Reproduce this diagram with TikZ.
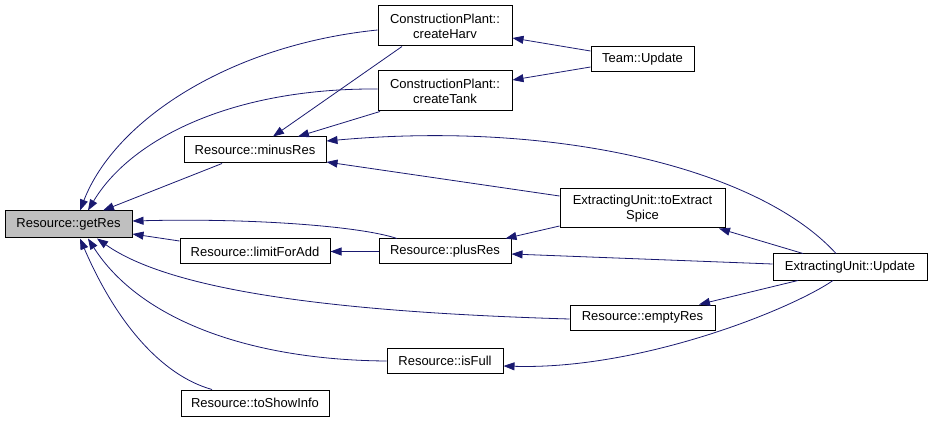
\documentclass[tikz,border=0pt]{standalone}
\usepackage{fontspec}
\setmainfont{Liberation Sans}
\usetikzlibrary{arrows.meta,calc}
\definecolor{edgecol}{HTML}{191970}
\definecolor{rootfill}{HTML}{BFBFBF}
\tikzset{
  fn/.style={draw=black, line width=1pt, fill=white, inner sep=0pt, align=center,
    font=\fontsize{13}{15}\selectfont},
  root/.style={fn, fill=rootfill},
  call/.style={draw=edgecol, line width=0.8pt, -{Triangle[length=11pt,width=8pt]}}
}
\begin{document}
\begin{tikzpicture}[x=1pt,y=-1pt]
\useasboundingbox (0,0) rectangle (932,422);
\node[root, minimum width=127pt, minimum height=27pt] (getRes) at (68.5,224.5) {Resource::getRes};
\node[fn, minimum width=134pt, minimum height=40pt] (createHarv) at (445,26) {ConstructionPlant::\\createHarv};
\node[fn, minimum width=134pt, minimum height=40pt] (createTank) at (445,91) {ConstructionPlant::\\createTank};
\node[fn, minimum width=103pt, minimum height=25pt] (teamUpdate) at (642.5,59.5) {Team::Update};
\node[fn, minimum width=142pt, minimum height=26pt] (minusRes) at (255,150) {Resource::minusRes};
\node[fn, minimum width=165pt, minimum height=39pt] (toExtract) at (642.5,208.5) {ExtractingUnit::toExtract\\Spice};
\node[fn, minimum width=150pt, minimum height=25pt] (limitForAdd) at (255,251.5) {Resource::limitForAdd};
\node[fn, minimum width=132pt, minimum height=25pt] (plusRes) at (445,251.5) {Resource::plusRes};
\node[fn, minimum width=154pt, minimum height=26pt] (euUpdate) at (850,267) {ExtractingUnit::Update};
\node[fn, minimum width=145pt, minimum height=25pt] (emptyRes) at (642.5,317.5) {Resource::emptyRes};
\node[fn, minimum width=116pt, minimum height=25pt] (isFull) at (445,360.5) {Resource::isFull};
\node[fn, minimum width=148pt, minimum height=26pt] (toShowInfo) at (255,403) {Resource::toShowInfo};

% createHarv -> getRes
\draw[call] ($(createHarv.west)+(0,4)$) .. controls (230,45) and (115,120) .. ($(getRes.north)+(11.5,0)$);
% createTank -> getRes
\draw[call] ($(createTank.west)+(0,-2)$) .. controls (230,88) and (130,140) .. ($(getRes.north)+(19.5,0)$);
% createHarv -> minusRes
\draw[call] ($(createHarv.south)+(-43,0)$) -- ($(minusRes.north)+(18,0)$);
% createTank -> minusRes
\draw[call] ($(createTank.south)+(-65,0)$) -- ($(minusRes.north)+(43,0)$);
% minusRes -> getRes
\draw[call] ($(minusRes.south)+(-33,0)$) -- ($(getRes.north)+(34.5,0)$);
% teamUpdate -> createHarv / createTank
\draw[call] ($(teamUpdate.west)+(0,-8.5)$) -- ($(createHarv.east)+(0,12)$);
\draw[call] ($(teamUpdate.west)+(0,7.5)$) -- ($(createTank.east)+(0,-11)$);
% euUpdate -> minusRes
\draw[call] ($(euUpdate.north)+(-14,0)$) .. controls (760,170) and (560,120) .. ($(minusRes.east)+(0,-9)$);
% toExtract -> minusRes
\draw[call] ($(toExtract.west)+(0,-12.5)$) -- ($(minusRes.east)+(0,12)$);
% plusRes -> getRes
\draw[call] ($(plusRes.north)+(-48,0)$) .. controls (360,226) and (250,218) .. ($(getRes.east)+(0,-3.5)$);
% limitForAdd -> getRes
\draw[call] ($(limitForAdd.west)+(0,-10.5)$) -- ($(getRes.east)+(0,9.5)$);
% plusRes -> limitForAdd
\draw[call] (plusRes.west) -- (limitForAdd.east);
% toExtract -> plusRes
\draw[call] ($(toExtract.west)+(0,17.5)$) -- ($(plusRes.north east)+(-6,0)$);
% euUpdate -> plusRes
\draw[call] ($(euUpdate.west)+(0,-3)$) -- ($(plusRes.east)+(0,2.5)$);
% euUpdate -> toExtract
\draw[call] ($(euUpdate.north)+(-47,0)$) -- ($(toExtract.south)+(76.5,0)$);
% euUpdate -> emptyRes
\draw[call] ($(euUpdate.south)+(-52,0)$) -- ($(emptyRes.north)+(56.5,0)$);
% euUpdate -> isFull
\draw[call] ($(euUpdate.south)+(-17,0)$) .. controls (790,310) and (640,370) .. ($(isFull.east)+(0,5.5)$);
% emptyRes -> getRes
\draw[call] ($(emptyRes.west)+(0,1.5)$) .. controls (330,312) and (170,290) .. ($(getRes.south)+(28.5,0)$);
% isFull -> getRes
\draw[call] ($(isFull.west)+(0,0.5)$) .. controls (250,360) and (140,320) .. ($(getRes.south)+(19.5,0)$);
% toShowInfo -> getRes
\draw[call] ($(toShowInfo.north)+(-43,0)$) .. controls (160,375) and (115,320) .. ($(getRes.south)+(11.5,0)$);
\end{tikzpicture}
\end{document}
